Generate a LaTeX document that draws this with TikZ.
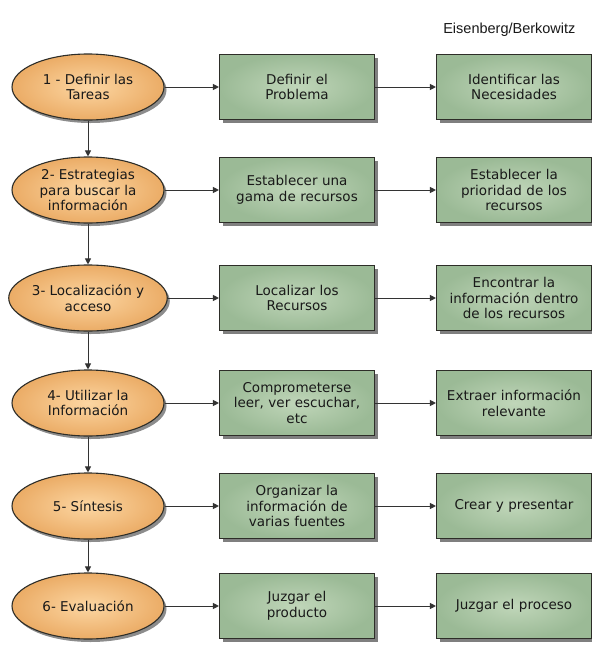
\documentclass[tikz,border=0pt]{standalone}
\usepackage{fontspec}
\setmainfont{DejaVu Sans}
\newfontfamily\arialfont{Liberation Sans}
\usetikzlibrary{shapes.geometric,shadows,arrows.meta}
\definecolor{ellin}{RGB}{252,214,162}
\definecolor{ellout}{RGB}{235,172,102}
\definecolor{boxin}{RGB}{192,214,185}
\definecolor{boxout}{RGB}{155,186,150}
\definecolor{edge}{RGB}{45,45,40}
\definecolor{txt}{RGB}{25,25,25}
\tikzset{
  stage/.style={ellipse, draw=edge, line width=1.1pt, inner sep=0pt,
    minimum width=152pt, minimum height=66pt, align=center,
    shading=radial, inner color=ellin, outer color=ellout,
    drop shadow={shadow xshift=2.5pt, shadow yshift=-3pt, fill=black, opacity=0.45},
    font=\fontsize{13.5}{15.5}\selectfont, text=txt},
  task/.style={rectangle, draw=edge, line width=1.1pt, inner sep=2pt,
    minimum width=155pt, minimum height=65pt, text width=150pt, align=center,
    shading=radial, inner color=boxin, outer color=boxout,
    drop shadow={shadow xshift=3pt, shadow yshift=-3.5pt, fill=black, opacity=0.5},
    font=\fontsize{13.5}{15.5}\selectfont, text=txt},
  link/.style={draw=black!80, line width=0.9pt, -{Triangle[length=6pt,width=6pt]}}
}
\begin{document}
\begin{tikzpicture}[x=1pt,y=-1pt]
\useasboundingbox (0,0) rectangle (592,646);
\fill[white] (0,0) rectangle (592,646);
\node[font=\arialfont\fontsize{14.5}{16}\selectfont, text=txt, anchor=east] (credit) at (579,30) {Eisenberg/Berkowitz};

% row 1
\node[stage] (e1) at (88,87) {1 - Definir las\\Tareas};
\node[task] (a1) at (297,87) {Definir el\\Problema};
\node[task] (b1) at (514,87) {Identificar las\\Necesidades};
% row 2
\node[stage] (e2) at (88,190) {2- Estrategias\\para buscar la\\información};
\node[task] (a2) at (297,190) {Establecer una\\gama de recursos};
\node[task] (b2) at (514,190) {Establecer la\\prioridad de los\\recursos};
% row 3
\node[stage] (e3) at (88,298) {3- Localización y\\acceso};
\node[task] (a3) at (297,298) {Localizar los\\Recursos};
\node[task] (b3) at (514,298) {Encontrar la\\información dentro\\de los recursos};
% row 4
\node[stage] (e4) at (88,403) {4- Utilizar la\\Información};
\node[task] (a4) at (297,403) {Comprometerse\\leer, ver escuchar,\\etc};
\node[task] (b4) at (514,403) {Extraer información\\relevante};
% row 5
\node[stage] (e5) at (88,506) {5- Síntesis};
\node[task] (a5) at (297,506) {Organizar la\\información de\\varias fuentes};
\node[task] (b5) at (514,506) {Crear y presentar};
% row 6
\node[stage] (e6) at (88,606) {6- Evaluación};
\node[task] (a6) at (297,606) {Juzgar el\\producto};
\node[task] (b6) at (514,606) {Juzgar el proceso};

\foreach \r in {1,...,6}{
  \draw[link] (e\r) -- (a\r);
  \draw[link] (a\r) -- (b\r);
}
\draw[link] (e1) -- (e2);
\draw[link] (e2) -- (e3);
\draw[link] (e3) -- (e4);
\draw[link] (e4) -- (e5);
\draw[link] (e5) -- (e6);
\end{tikzpicture}
\end{document}
